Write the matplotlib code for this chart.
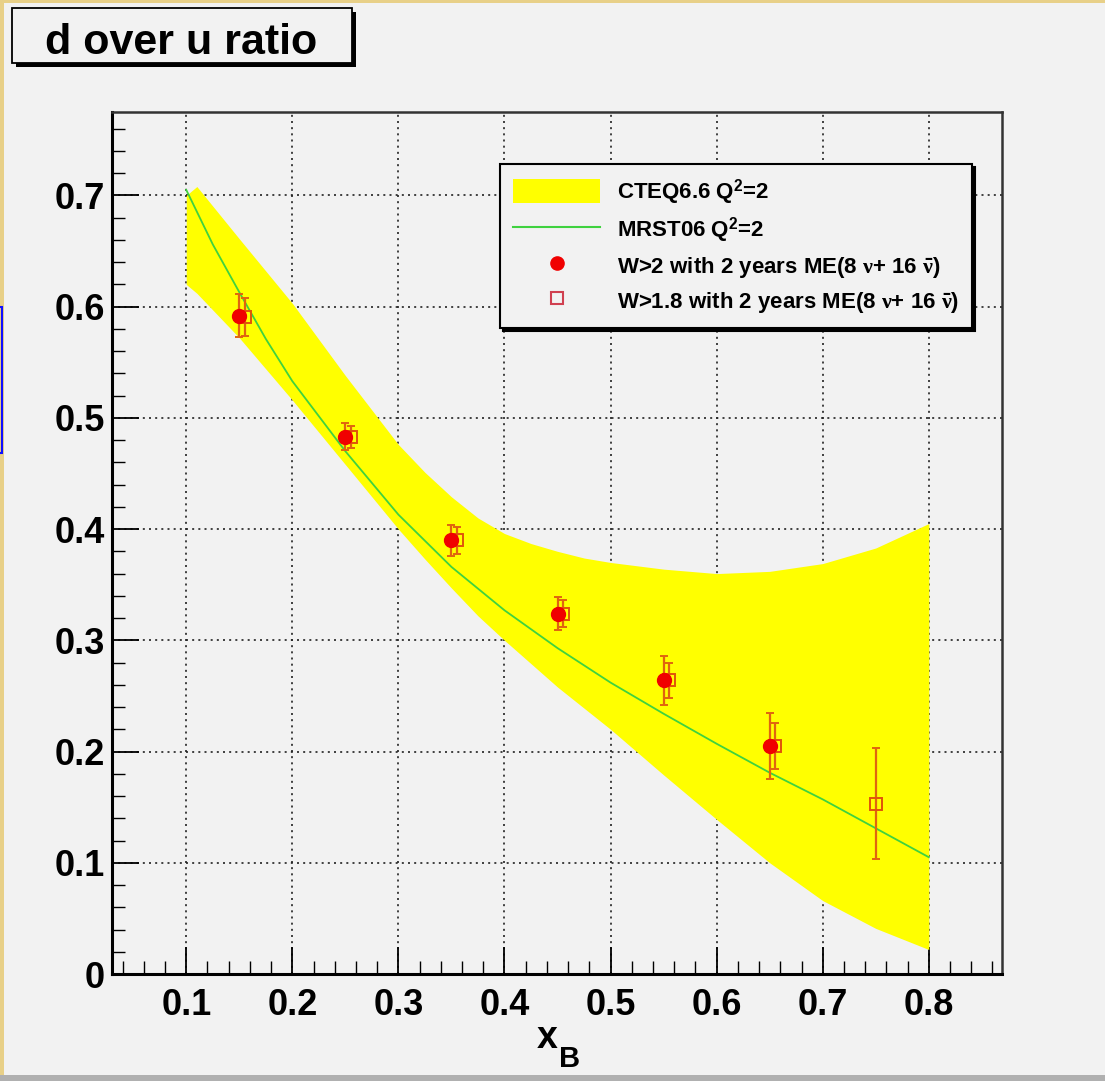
import numpy as np
import matplotlib
matplotlib.use('Agg')
import matplotlib.pyplot as plt
from matplotlib.lines import Line2D
from matplotlib.patches import Rectangle, Patch

plt.rcParams['font.family'] = ['Liberation Sans', 'DejaVu Sans']
plt.rcParams['font.weight'] = 'bold'
plt.rcParams['mathtext.fontset'] = 'custom'
plt.rcParams['mathtext.rm'] = 'Liberation Sans:bold'
plt.rcParams['mathtext.bf'] = 'Liberation Sans:bold'
plt.rcParams['mathtext.it'] = 'Liberation Serif'

# CTEQ6.6 Q^2=2 band, upper and lower edge
band_x = [0.10, 0.11, 0.15, 0.20, 0.25, 0.30, 0.325, 0.35, 0.375, 0.40, 0.425, 0.45, 0.475,
          0.50, 0.55, 0.60, 0.65, 0.70, 0.75, 0.80]
band_hi = [0.700, 0.708, 0.661, 0.603, 0.538, 0.476, 0.451, 0.429, 0.410, 0.396, 0.387, 0.380, 0.374,
           0.370, 0.364, 0.360, 0.362, 0.369, 0.383, 0.405]
band_lo = [0.620, 0.612, 0.572, 0.516, 0.458, 0.400, 0.373, 0.347, 0.322, 0.300, 0.279, 0.258, 0.239,
           0.220, 0.179, 0.139, 0.100, 0.066, 0.041, 0.022]

# MRST06 Q^2=2 curve
mrst_x = [0.10, 0.125, 0.15, 0.175, 0.20, 0.25, 0.30, 0.35, 0.40, 0.45, 0.50, 0.55, 0.60, 0.65, 0.70, 0.75, 0.80]
mrst_y = [0.705, 0.656, 0.613, 0.571, 0.533, 0.470, 0.413, 0.366, 0.327, 0.293, 0.262, 0.234, 0.207, 0.181, 0.157, 0.131, 0.105]

# W>2 (filled circles)
w2_x = [0.15, 0.25, 0.35, 0.45, 0.55, 0.65]
w2_y = [0.592, 0.483, 0.390, 0.324, 0.264, 0.205]
w2_err = [0.019, 0.012, 0.014, 0.015, 0.022, 0.030]

# W>1.8 (open squares)
w18_x = [0.155, 0.255, 0.355, 0.455, 0.555, 0.655, 0.75]
w18_y = [0.591, 0.483, 0.390, 0.324, 0.264, 0.205, 0.153]
w18_err = [0.017, 0.010, 0.012, 0.012, 0.016, 0.021, 0.050]

xticks = [0.1, 0.2, 0.3, 0.4, 0.5, 0.6, 0.7, 0.8]
xticklabels = ['0.1', '0.2', '0.3', '0.4', '0.5', '0.6', '0.7', '0.8']
yticks = [0, 0.1, 0.2, 0.3, 0.4, 0.5, 0.6, 0.7]
yticklabels = ['0', '0.1', '0.2', '0.3', '0.4', '0.5', '0.6', '0.7']

W, H = 1105, 1081
bg = '#f2f2f2'
fig = plt.figure(figsize=(W / 100, H / 100), dpi=100, facecolor=bg)

def fx(p):
    return p / W

def fy(p):
    return 1 - p / H

# axes frame in pixels: left 112, right 1002, top 112, bottom 974
ax = fig.add_axes([fx(112), fy(974), (1002 - 112) / W, (974 - 112) / H])
ax.set_facecolor(bg)
ax.set_xlim(0.03, 0.869)
ax.set_ylim(0, 0.775)

band = ax.fill_between(band_x, band_lo, band_hi, color='#ffff00', lw=0, zorder=1)
mrst, = ax.plot(mrst_x, mrst_y, color='#3fd23f', lw=1.3, zorder=2)

ax.errorbar(w18_x, w18_y, yerr=w18_err, fmt='s', ms=9, mfc='none', mec='#e0540a',
            mew=1.4, ecolor='#e0640f', elinewidth=1.6, capsize=3, capthick=1.4, zorder=3)
ax.errorbar(w2_x, w2_y, yerr=w2_err, fmt='o', ms=10, color='#f00000', ecolor='#e0640f',
            elinewidth=1.6, capsize=3, capthick=1.4, zorder=4)

ax.set_xticks(xticks)
ax.set_xticklabels(xticklabels)
ax.set_yticks(yticks)
ax.set_yticklabels(yticklabels)
ax.set_xticks(np.arange(0.04, 0.869, 0.02), minor=True)
ax.set_yticks(np.arange(0.02, 0.775, 0.02), minor=True)
ax.tick_params(which='major', direction='in', length=19.5, width=1.3, labelsize=26)
ax.tick_params(which='minor', direction='in', length=9.5, width=1.0)
ax.tick_params(axis='x', which='major', pad=10)
ax.tick_params(axis='y', which='major', pad=5)
for lab in ax.get_xticklabels() + ax.get_yticklabels():
    lab.set_fontweight('bold')

ax.grid(True, which='major', color='#222222', linestyle=(0, (1.2, 2.5)), linewidth=1.2)
ax.set_axisbelow(True)

for side in ['left', 'bottom']:
    ax.spines[side].set_linewidth(2.2)
    ax.spines[side].set_color('black')
for side in ['top', 'right']:
    ax.spines[side].set_linewidth(1.8)
    ax.spines[side].set_color('#333333')

# axis title x_B
fig.text(fx(537), fy(1048), 'x', fontsize=27, fontweight='bold', va='baseline', ha='left')
fig.text(fx(559), fy(1067), 'B', fontsize=21, fontweight='bold', va='baseline', ha='left')

# legend
handles = [
    Patch(facecolor='#ffff00', edgecolor='none'),
    Line2D([], [], color='#3fd23f', lw=1.5),
    Line2D([], [], marker='o', ls='', ms=9.5, color='#f00000'),
    Line2D([], [], marker='s', ls='', ms=8.5, mfc='none', mec='#d04050', mew=1.5),
]
labels = [
    'CTEQ6.6 Q$^2$=2',
    'MRST06 Q$^2$=2',
    r'W>2 with 2 years ME(8 $\nu$+ 16 $\bar{\nu}$)',
    r'W>1.8 with 2 years ME(8 $\nu$+ 16 $\bar{\nu}$)',
]
leg = ax.legend(handles, labels, loc='upper left', bbox_to_anchor=(fx(500), fy(164)),
                bbox_transform=fig.transFigure, borderaxespad=0,
                prop={'weight': 'bold', 'size': 16}, handlelength=3.9, handleheight=1.3,
                handletextpad=0.75, labelspacing=0.38, borderpad=0.6, fancybox=False,
                framealpha=1, facecolor=bg, edgecolor='black',
                shadow={'color': 'black', 'alpha': 1})
leg.get_frame().set_linewidth(1.5)

# title box with shadow
fig.add_artist(Rectangle((fx(16), fy(67)), 340 / W, 55 / H, transform=fig.transFigure,
                         facecolor='black', edgecolor='black', lw=0))
fig.add_artist(Rectangle((fx(12), fy(63)), 340 / W, 55 / H, transform=fig.transFigure,
                         facecolor=bg, edgecolor='black', lw=1.3))
fig.text(fx(181), fy(54), 'd over u ratio', fontsize=31, fontweight='bold',
         ha='center', va='baseline')

# slide borders around the canvas
fig.add_artist(Rectangle((0, fy(3)), 1, 3 / H, transform=fig.transFigure,
                         facecolor='#e8d088', lw=0))
fig.add_artist(Rectangle((0, 0), 4 / W, 1, transform=fig.transFigure,
                         facecolor='#e8d088', lw=0))
fig.add_artist(Rectangle((0, 0), 1, 6 / H, transform=fig.transFigure,
                         facecolor='#b0b0b0', lw=0))
fig.add_artist(Rectangle((fx(-10), fy(453)), 12 / W, 146 / H, transform=fig.transFigure,
                         facecolor='none', edgecolor='#1010ff', lw=1.5))

fig.savefig('out.png', dpi=100, facecolor=bg)
